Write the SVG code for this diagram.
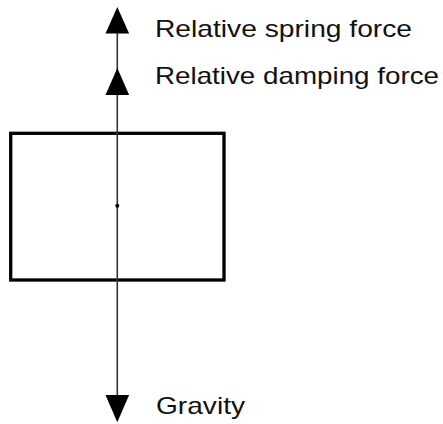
<svg xmlns="http://www.w3.org/2000/svg" width="443" height="424" viewBox="0 0 443 424">
<style>
.lbl{font-family:"Liberation Sans",Arial,Helvetica,sans-serif;font-size:24px;fill:#111}
.box{fill:#fff;stroke:#000;stroke-width:3.3}
.axis{stroke:#333;stroke-width:1.6;fill:none}
.head{fill:#000}
</style>
<rect width="443" height="424" fill="#fff"/>
<g id="mass">
<rect class="box" x="10.7" y="133.3" width="213.3" height="146.7"/>
</g>
<g id="connectors">
<line class="axis" x1="117.3" y1="20" x2="117.3" y2="400"/>
<polygon class="head" points="117.3,7 105.5,33.5 129.1,33.5"/>
<polygon class="head" points="117.3,68 105.5,95 129.1,95"/>
<polygon class="head" points="117.3,422.3 105.5,395 129.1,395"/>
</g>
<g id="center">
<circle cx="117.3" cy="205.7" r="2" fill="#000"/>
</g>
<g id="label-spring">
<text class="lbl" x="155" y="36.5" textLength="257" lengthAdjust="spacingAndGlyphs">Relative spring force</text>
</g>
<g id="label-damping">
<text class="lbl" x="155" y="84" textLength="284" lengthAdjust="spacingAndGlyphs">Relative damping force</text>
</g>
<g id="label-gravity">
<text class="lbl" x="156" y="413.5" textLength="89" lengthAdjust="spacingAndGlyphs">Gravity</text>
</g>
</svg>
